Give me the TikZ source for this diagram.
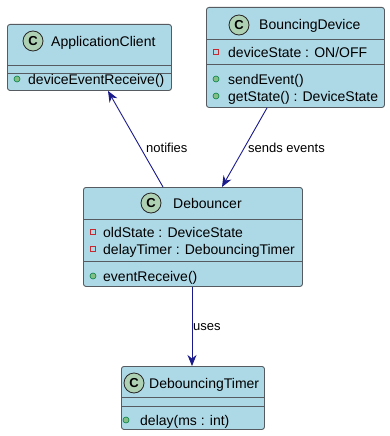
\documentclass[tikz,border=0pt]{standalone}
\usepackage{fontspec}
\setmainfont{Liberation Sans}
\usetikzlibrary{arrows.meta}
\definecolor{boxfill}{HTML}{ADD8E6}
\definecolor{boxline}{HTML}{555B60}
\definecolor{spotfill}{HTML}{ADD1B2}
\definecolor{linkcol}{HTML}{1A1A8C}
\definecolor{privcol}{HTML}{C82930}
\definecolor{pubfill}{HTML}{84BE84}
\definecolor{publine}{HTML}{038048}
\tikzset{
  classbox/.style={draw=boxline, fill=boxfill, line width=0.9pt, rounded corners=2.5pt,
    inner sep=0pt, anchor=north west},
  divider/.style={draw=boxline, line width=0.9pt},
  spot/.style={circle, draw=black!85, fill=spotfill, line width=0.8pt,
    minimum size=20pt, inner sep=0pt, font=\fontsize{13}{13}\selectfont\bfseries},
  title/.style={anchor=base west, inner sep=0pt, font=\fontsize{14}{14}\selectfont},
  member/.style={anchor=base west, inner sep=0pt, font=\fontsize{14}{14}\selectfont},
  privmark/.style={draw=privcol, line width=0.8pt, fill=none, minimum size=5.5pt,
    inner sep=0pt, rectangle},
  pubmark/.style={circle, draw=publine, fill=pubfill, line width=0.6pt,
    minimum size=6pt, inner sep=0pt},
  link/.style={draw=linkcol, line width=0.9pt,
    -{Stealth[length=11pt, width=9pt, inset=3.5pt]}},
  linklabel/.style={anchor=base west, inner sep=0pt, font=\fontsize{13}{13}\selectfont}
}
\begin{document}
\begin{tikzpicture}[x=1pt, y=-1pt]
\useasboundingbox (0,0) rectangle (389,436);

% ApplicationClient
\node[classbox, minimum width=164pt, minimum height=66pt] (app) at (7,24) {};
\draw[divider] (7,65) -- (171,65);
\draw[divider] (7,73) -- (171,73);
\node[spot] (appspot) at (33,41) {C};
\node[title] (apptitle) at (51,46.5) {ApplicationClient};
\node[pubmark] (appm1i) at (17,79) {};
\node[member] (appm1) at (28,84) {deviceEventReceive()};

% BouncingDevice
\node[classbox, minimum width=178pt, minimum height=100pt] (dev) at (206,7) {};
\draw[divider] (206,39) -- (384,39);
\draw[divider] (206,64) -- (384,64);
\node[spot] (devspot) at (239,25) {C};
\node[title] (devtitle) at (259,30) {BouncingDevice};
\node[privmark] (deva1i) at (216,52) {};
\node[member] (deva1) at (228,57) {deviceState : ON/OFF};
\node[pubmark] (devm1i) at (216,79) {};
\node[member] (devm1) at (228,84) {sendEvent()};
\node[pubmark] (devm2i) at (216,96) {};
\node[member] (devm2) at (228,101) {getState() : DeviceState};

% Debouncer
\node[classbox, minimum width=219pt, minimum height=99pt] (deb) at (83,187) {};
\draw[divider] (83,219) -- (302,219);
\draw[divider] (83,261) -- (302,261);
\node[spot] (debspot) at (151,203) {C};
\node[title] (debtitle) at (173,208) {Debouncer};
\node[privmark] (deba1i) at (93,232) {};
\node[member] (deba1) at (103,237) {oldState : DeviceState};
\node[privmark] (deba2i) at (93,249) {};
\node[member] (deba2) at (103,254) {delayTimer : DebouncingTimer};
\node[pubmark] (debm1i) at (93,276) {};
\node[member] (debm1) at (103,281) {eventReceive()};

% DebouncingTimer
\node[classbox, minimum width=143pt, minimum height=63pt] (tim) at (121,366) {};
\draw[divider] (121,397) -- (264,397);
\draw[divider] (121,406) -- (264,406);
\node[spot] (timspot) at (134,383) {C};
\node[title] (timtitle) at (149,388) {DebouncingTimer};
\node[pubmark] (timm1i) at (126,420) {};
\node[member] (timm1) at (140,425) {delay(ms : int)};

% Relations
\draw[link] (deb.north west) ++(80,0) coordinate (notifyfrom)
  (notifyfrom) -- ([xshift=101pt]app.south west);
\draw[link] ([xshift=61pt]dev.south west) -- ([xshift=139pt]deb.north west);
\draw[link] ([xshift=109pt]deb.south west) -- ([xshift=71pt]tim.north west);

\node[linklabel] (lnotify) at (146,152) {notifies};
\node[linklabel] (lsends) at (248,152) {sends events};
\node[linklabel] (luses) at (193,330) {uses};
\end{tikzpicture}
\end{document}
